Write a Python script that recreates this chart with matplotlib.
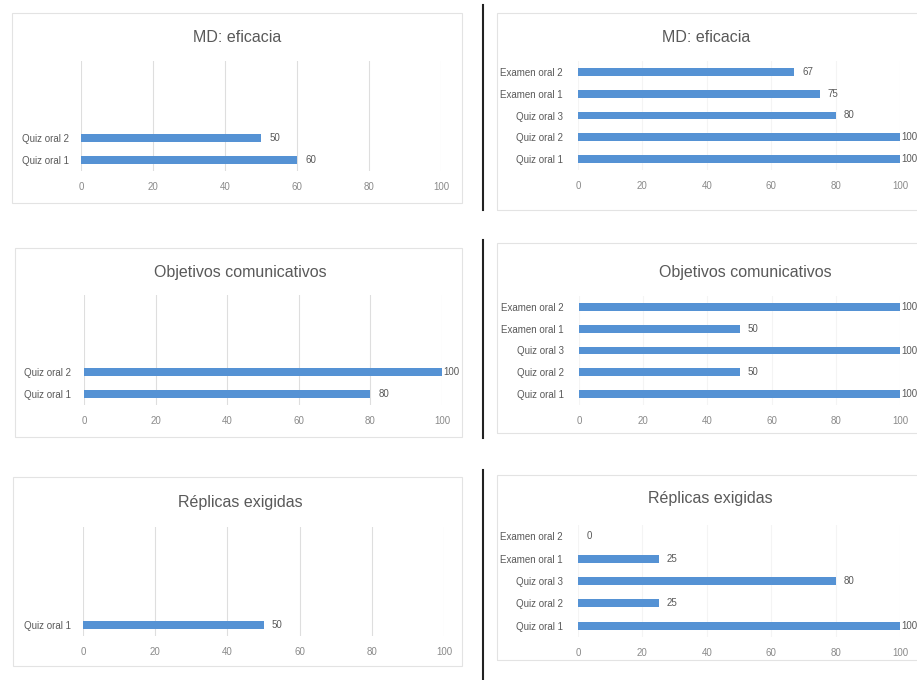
import matplotlib
matplotlib.use('Agg')
import matplotlib.pyplot as plt
from matplotlib.patches import Rectangle
from matplotlib.lines import Line2D


# Datos

categorias = ['Quiz oral 1', 'Quiz oral 2', 'Quiz oral 3', 'Examen oral 1', 'Examen oral 2']

eficacia_izq = [60, 50]
objetivos_izq = [80, 100]
replicas_izq = [50]

eficacia_der = [100, 100, 80, 75, 67]
objetivos_der = [100, 50, 100, 50, 100]
replicas_der = [100, 25, 80, 25, 0]

titulos = ['MD: eficacia', 'Objetivos comunicativos', 'Réplicas exigidas']

xticks = [0, 20, 40, 60, 80, 100]


# Estilo

W, H = 917, 680
azul = '#5592d4'
gris_texto = '#595959'
gris_ejes = '#8a8a8a'

plt.rcParams['font.family'] = ['Liberation Sans', 'DejaVu Sans']

fig = plt.figure(figsize=(W / 100, H / 100), dpi=100)


def caja(x0, y0, x1, y1):
    # de pixeles (origen arriba a la izquierda) a fraccion de figura
    return [x0 / W, 1 - y1 / H, (x1 - x0) / W, (y1 - y0) / H]


def grafico(rect, valores, titulo, titulo_xy, grid_color, ypad):

    ax = fig.add_axes(caja(*rect))

    n = len(valores)
    pos = list(range(n))

    ax.barh(pos, valores, height=0.36, color=azul, zorder=3)

    # etiquetas de valor; pegadas a la barra cuando llegan al maximo
    for p, v in zip(pos, valores):
        dx = 0.8 if v >= 100 else 6
        ax.annotate('{:d}'.format(v), (v, p), xytext=(dx, 0), textcoords='offset points',
                    va='center', ha='left', fontsize=7, color=gris_texto,
                    annotation_clip=False)

    ax.set_xlim(0, 100)
    ax.set_ylim(-0.5, 4.5)
    ax.set_xticks(xticks)
    ax.set_yticks(pos)
    ax.set_yticklabels(categorias[:n])

    ax.tick_params(axis='x', length=0, pad=8, labelsize=7, labelcolor=gris_ejes)
    ax.tick_params(axis='y', length=0, pad=ypad, labelsize=7, labelcolor=gris_texto)

    ax.grid(axis='x', color=grid_color, linewidth=0.8, zorder=0)

    for s in ax.spines.values():
        s.set_visible(False)

    ax.patch.set_alpha(0)

    fig.text(titulo_xy[0] / W, 1 - titulo_xy[1] / H, titulo,
             ha='center', va='center', fontsize=11.5, color=gris_texto)

    return ax


# Marcos de cada grafico

marcos = [(12, 13, 462, 203), (15, 248, 462, 437), (13, 477, 462, 666),
          (497, 13, 930, 210), (497, 243, 990, 433), (497, 475, 930, 660)]

for m in marcos:
    x0, y0, x1, y1 = caja(*m)
    fig.add_artist(Rectangle((x0, y0), x1, y1, transform=fig.transFigure,
                             fill=False, edgecolor='#e3e3e3', linewidth=0.8))


# Columna izquierda

grafico((81, 61, 441, 171), eficacia_izq, titulos[0], (237, 38), '#dedede', 9)
grafico((84, 295, 442, 405), objetivos_izq, titulos[1], (240, 273), '#dedede', 9)
grafico((83, 527, 444, 636), replicas_izq, titulos[2], (240, 502), '#dedede', 9)


# Columna derecha

grafico((578, 61, 900, 170), eficacia_der, titulos[0], (706, 37), '#f4f4f4', 11)
grafico((579, 296, 900, 405), objetivos_der, titulos[1], (745, 273), '#f4f4f4', 11)
grafico((578, 525, 900, 637), replicas_der, titulos[2], (710, 498), '#f4f4f4', 11)


# Linea divisoria

for y0, y1 in [(5, 210), (240, 438), (470, 680)]:
    fig.add_artist(Line2D([483 / W, 483 / W], [1 - y0 / H, 1 - y1 / H],
                          transform=fig.transFigure, color='#222222', linewidth=1.5))


plt.savefig('out.png', dpi=100)
